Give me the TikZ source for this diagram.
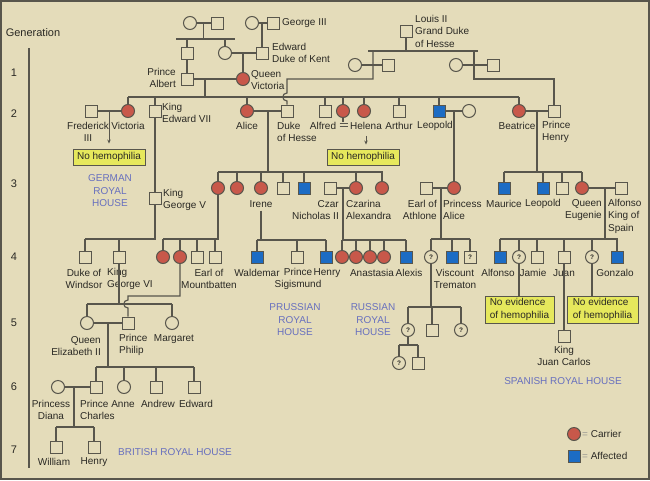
\documentclass[tikz,border=0pt]{standalone}
\usepackage{fontspec}
\setmainfont{Liberation Sans}
\usepackage{xcolor}
\usepackage{tikz}
\usetikzlibrary{arrows.meta,positioning,calc}

\definecolor{paper}{RGB}{228,220,186}
\definecolor{inkline}{RGB}{88,86,76}
\definecolor{inktext}{RGB}{42,41,36}
\definecolor{carrierred}{RGB}{200,88,74}
\definecolor{affectedblue}{RGB}{28,108,196}
\definecolor{notefill}{RGB}{230,232,92}
\definecolor{houseblue}{RGB}{104,112,190}

\begin{document}
\begin{tikzpicture}[
  x=1pt,y=-1pt,
  font=\fontsize{10}{12.5}\selectfont,
  every node/.style={text=inktext},
  ln/.style={draw=inkline,line width=1.15pt},
  male/.style={rectangle,draw=inkline,line width=1pt,fill=paper,
               minimum size=12pt,inner sep=0pt},
  female/.style={circle,draw=inkline,line width=1pt,fill=paper,
                 minimum size=13pt,inner sep=0pt},
  carrier/.style={female,fill=carrierred},
  affected/.style={male,fill=affectedblue},
  qmale/.style={male,font=\fontsize{6.5}{7}\selectfont\bfseries},
  qfemale/.style={female,font=\fontsize{6.5}{7}\selectfont\bfseries},
  lbl/.style={inner sep=0pt,align=center},
  genlbl/.style={lbl,font=\fontsize{11}{13}\selectfont},
  house/.style={lbl,text=houseblue},
  note/.style={rectangle,draw=inkline,line width=0.9pt,fill=notefill,
               inner xsep=4pt,inner ysep=2pt,minimum height=16pt,align=left},
  arr/.style={-{Stealth[length=4pt,width=3.5pt]},draw=inkline,line width=1pt}
]
  \fill[paper] (0,0) rectangle (650,480);
  \draw[inkline,line width=2pt] (1,1) rectangle (649,479);
  \useasboundingbox (0,0) rectangle (650,480);

  % generation scale
  \node[genlbl](gen) at (33,33){Generation};
  \coordinate (genT) at (29,48);
  \coordinate (genB) at (29,468);
  \draw[ln](genT)--(genB);
  \node[genlbl](g1) at (14,73){1};
  \node[genlbl](g2) at (14,114){2};
  \node[genlbl](g3) at (14,184){3};
  \node[genlbl](g4) at (14,257){4};
  \node[genlbl](g5) at (14,323){5};
  \node[genlbl](g6) at (14,387){6};
  \node[genlbl](g7) at (14,450){7};

  % top of the tree
  \node[female](gm1) at (190,23){};
  \node[male](gf1) at (217,23){};
  \node[female](gm2) at (252,23){};
  \node[male](george3) at (273,23){};
  \node[lbl,anchor=west](tGeorge3) at (282,23){George III};
  \node[male](albertf) at (187,53){};
  \node[female](kentw) at (225,53){};
  \node[male](kent) at (262,53){};
  \node[lbl,anchor=west,align=left](tKent) at (272,53){Edward\\Duke of Kent};
  \node[male](albert) at (187,79){};
  \node[lbl,anchor=east,align=right](tAlbert) at (176,78){Prince\\Albert};
  \node[carrier](victoria) at (243,79){};
  \node[lbl,anchor=west,align=left](tVictoria) at (251,80){Queen\\Victoria};

  \coordinate (mA) at (203.5,23);
  \coordinate (barAL) at (176,39);
  \coordinate (barAR) at (235,39);
  \coordinate (mB) at (262,23);
  \coordinate (mC) at (243,53);
  \coordinate (mD) at (205,79);
  \draw[ln](gm1)--(gf1) (gm2)--(george3) (kentw)--(kent) (albert)--(victoria);
  \draw[ln](mA)--(mA |- barAL);
  \draw[ln](barAL)--(barAR);
  \draw[ln](albertf)--(albertf |- barAL) (kentw)--(kentw |- barAL);
  \draw[ln](albertf)--(albert);
  \draw[ln](mB)--(kent);
  \draw[ln](mC)--(victoria);

  % house of Hesse
  \node[male](louis) at (406,31){};
  \node[lbl,anchor=west,align=left](tLouis) at (415,31){Louis II\\Grand Duke\\of Hesse};
  \coordinate (barHL) at (368,51);
  \coordinate (barHR) at (478,51);
  \node[female](hw1) at (355,65){};
  \node[male](hh1) at (388,65){};
  \node[female](hw2) at (456,65){};
  \node[male](hh2) at (493,65){};
  \draw[ln](louis)--(louis |- barHL);
  \draw[ln](barHL)--(barHR);
  \draw[ln](hw1)--(hh1) (hw2)--(hh2);
  \coordinate (mH1) at (373,79);
  \coordinate (mH2) at (474,79);

  % generation 2
  \coordinate (g2L) at (128,97);
  \coordinate (g2R) at (519,97);
  \node[male](fred) at (91,111){};
  \node[carrier](vicp) at (128,111){};
  \node[male](edw7) at (155,111){};
  \node[carrier](alice) at (247,111){};
  \node[male](dhesse) at (287,111){};
  \node[male](alfred) at (325,111){};
  \node[carrier](sister) at (343,111){};
  \node[carrier](helena) at (364,111){};
  \node[male](arthur) at (399,111){};
  \node[affected](leopold) at (439,111){};
  \node[female](leowife) at (469,111){};
  \node[carrier](beatrice) at (519,111){};
  \node[male](henry) at (554,111){};

  \draw[ln](mD)--(mD |- g2L);
  \draw[ln](g2L)--(g2R);
  \draw[ln](vicp)--(vicp |- g2L) (edw7)--(edw7 |- g2L) (alice)--(alice |- g2L)
    (alfred)--(alfred |- g2L) (sister)--(sister |- g2L) (helena)--(helena |- g2L)
    (arthur)--(arthur |- g2L) (leopold)--(leopold |- g2L) (beatrice)--(beatrice |- g2L);
  \draw[ln](fred)--(vicp) (alice)--(dhesse) (leopold)--(leowife) (beatrice)--(henry);
  \coordinate (hop1T) at (287,93);
  \coordinate (hop1B) at (287,101);
  \draw[ln](mH1 |- barHL)--(mH1)--(mH1 -| dhesse)--(hop1T)
    .. controls (281.5,93) and (281.5,101) .. (hop1B)--(dhesse);
  \draw[ln](mH2 |- barHL)--(mH2)-|(henry);
  \coordinate (eqT) at (343,122);
  \draw[ln](sister)--(eqT);
  \draw[inkline,line width=0.9pt](339.5,123)--(347.5,123) (339.5,126.5)--(347.5,126.5);

  \node[lbl](tFred) at (88,132){Frederick\\III};
  \node[lbl](tVicp) at (128,126){Victoria};
  \node[lbl,anchor=west,align=left](tEdw7) at (162,113){King\\Edward VII};
  \node[lbl](tAlice) at (247,126){Alice};
  \node[lbl,anchor=west,align=left](tDHesse) at (277,132){Duke\\of Hesse};
  \node[lbl](tAlfred) at (323,126){Alfred};
  \node[lbl](tHelena) at (366,126){Helena};
  \node[lbl](tArthur) at (399,126){Arthur};
  \node[lbl](tLeopold) at (435,126){Leopold};
  \node[lbl](tBeatrice) at (517,126){Beatrice};
  \node[lbl,anchor=west,align=left](tHenry) at (542,132){Prince\\Henry};

  \coordinate (mFred) at (109,111);
  \node[note](nohem1) at (109,157){No hemophilia};
  \node[note](nohem2) at (363,157){No hemophilia};
  \draw[arr,shorten >=5pt](mFred)--(mFred |- nohem1.north);
  \draw[arr,shorten <=6pt,shorten >=4pt](tHelena)--(tHelena |- nohem2.north);

  % generation 3
  \coordinate (mAlice) at (268,111);
  \coordinate (g3aL) at (218,172);
  \coordinate (g3aR) at (383,172);
  \node[carrier](c31) at (218,188){};
  \node[carrier](c32) at (237,188){};
  \node[carrier](irene) at (261,188){};
  \node[male](s34) at (283,188){};
  \node[affected](s35) at (304,188){};
  \node[male](czar) at (330,188){};
  \node[carrier](czarina) at (356,188){};
  \node[carrier](c38) at (382,188){};
  \draw[ln](mAlice)--(mAlice |- g3aL);
  \draw[ln](g3aL)--(g3aR);
  \draw[ln](c31)--(c31 |- g3aL) (c32)--(c32 |- g3aL) (irene)--(irene |- g3aL)
    (s34)--(s34 |- g3aL) (s35)--(s35 |- g3aL) (czarina)--(czarina |- g3aL)
    (c38)--(c38 |- g3aL);
  \draw[ln](czar)--(czarina);

  \coordinate (mLeo) at (454,111);
  \node[male](athlone) at (426,188){};
  \node[carrier](palice) at (454,188){};
  \draw[ln](mLeo)--(palice);
  \draw[ln](athlone)--(palice);

  \coordinate (mBea) at (537,111);
  \coordinate (g3bL) at (504,172);
  \coordinate (g3bR) at (582,172);
  \node[affected](maurice) at (504,188){};
  \node[affected](leo2) at (543,188){};
  \node[male](s3b) at (562,188){};
  \node[carrier](eugenie) at (582,188){};
  \node[male](alfonso13) at (621,188){};
  \draw[ln](mBea)--(mBea |- g3bL);
  \draw[ln](g3bL)--(g3bR);
  \draw[ln](maurice)--(maurice |- g3bL) (leo2)--(leo2 |- g3bL) (s3b)--(s3b |- g3bL)
    (eugenie)--(eugenie |- g3bL);
  \draw[ln](eugenie)--(alfonso13);

  \node[male](george5) at (155,198){};
  \draw[ln](edw7)--(george5);

  \node[house](hGerman) at (110,191){GERMAN\\ROYAL\\HOUSE};
  \node[lbl,anchor=west,align=left](tGeorge5) at (163,200){King\\George V};
  \node[lbl](tIrene) at (261,204){Irene};
  \node[lbl,anchor=east,align=right](tCzar) at (339,210){Czar\\Nicholas II};
  \node[lbl,anchor=west,align=left](tCzarina) at (346,210){Czarina\\Alexandra};
  \node[lbl,anchor=east,align=right](tAthlone) at (437,210){Earl of\\Athlone};
  \node[lbl,anchor=west,align=left](tPAlice) at (443,210){Princess\\Alice};
  \node[lbl](tMaurice) at (504,204){Maurice};
  \node[lbl](tLeo2) at (543,204){Leopold};
  \node[lbl,anchor=east,align=right](tEugenie) at (602,210){Queen\\Eugenie};
  \node[lbl,anchor=west,align=left](tAlfonso13) at (608,216){Alfonso\\King of\\Spain};

  % generation 4
  \coordinate (g4aL) at (85,239);
  \node[male](windsor) at (85,257){};
  \node[male](george6) at (119,257){};
  \draw[ln](george5)|-(g4aL);
  \draw[ln](windsor)--(windsor |- g4aL) (george6)--(george6 |- g4aL);

  \coordinate (g4bL) at (163,239);
  \node[carrier](c41) at (163,257){};
  \node[carrier](c42) at (180,257){};
  \node[male](s43) at (197,257){};
  \node[male](mountbatten) at (215,257){};
  \draw[ln](c31)|-(g4bL);
  \draw[ln](c41)--(c41 |- g4bL) (c42)--(c42 |- g4bL) (s43)--(s43 |- g4bL)
    (mountbatten)--(mountbatten |- g4bL);

  \coordinate (g4cL) at (257,240);
  \coordinate (g4cR) at (326,240);
  \node[affected](waldemar) at (257,257){};
  \node[male](sigismund) at (297,257){};
  \node[affected](henry4) at (326,257){};
  \draw[ln,shorten <=3pt](tIrene)--(tIrene |- g4cL);
  \draw[ln](g4cL)--(g4cR);
  \draw[ln](waldemar)--(waldemar |- g4cL) (sigismund)--(sigismund |- g4cL)
    (henry4)--(henry4 |- g4cL);

  \coordinate (mCzar) at (343,188);
  \coordinate (g4dL) at (342,240);
  \coordinate (g4dR) at (406,240);
  \node[carrier](an1) at (342,257){};
  \node[carrier](an2) at (356,257){};
  \node[carrier](an3) at (370,257){};
  \node[carrier](an4) at (384,257){};
  \node[affected](alexis) at (406,257){};
  \draw[ln](mCzar)--(mCzar |- g4dL);
  \draw[ln](g4dL)--(g4dR);
  \draw[ln](an1)--(an1 |- g4dL) (an2)--(an2 |- g4dL) (an3)--(an3 |- g4dL)
    (an4)--(an4 |- g4dL) (alexis)--(alexis |- g4dL);

  \coordinate (mAth) at (441,188);
  \coordinate (g4eL) at (431,239);
  \coordinate (g4eR) at (470,239);
  \node[qfemale](q41) at (431,257){?};
  \node[affected](trematon) at (452,257){};
  \node[qmale](q43) at (470,257){?};
  \draw[ln](mAth)--(mAth |- g4eL);
  \draw[ln](g4eL)--(g4eR);
  \draw[ln](q41)--(q41 |- g4eL) (trematon)--(trematon |- g4eL) (q43)--(q43 |- g4eL);

  \coordinate (mSpain) at (605,188);
  \coordinate (g4fL) at (500,239);
  \coordinate (g4fR) at (618,239);
  \node[affected](alfonso4) at (500,257){};
  \node[qfemale](q44) at (519,257){?};
  \node[male](jamie) at (537,257){};
  \node[male](juan) at (564,257){};
  \node[qfemale](q45) at (592,257){?};
  \node[affected](gonzalo) at (617,257){};
  \draw[ln](mSpain)--(mSpain |- g4fL);
  \draw[ln](g4fL)--(g4fR);
  \draw[ln](alfonso4)--(alfonso4 |- g4fL) (q44)--(q44 |- g4fL) (jamie)--(jamie |- g4fL)
    (juan)--(juan |- g4fL) (q45)--(q45 |- g4fL) (gonzalo)--(gonzalo |- g4fL);

  \node[lbl](tWindsor) at (84,279){Duke of\\Windsor};
  \node[lbl,anchor=west,align=left](tGeorge6) at (107,279){King\\George VI};
  \node[lbl](tMountbatten) at (209,279){Earl of\\Mountbatten};
  \node[lbl](tWaldemar) at (257,273){Waldemar};
  \node[lbl](tSigismund) at (298,279){Prince\\Sigismund};
  \node[lbl](tHenry4) at (327,273){Henry};
  \node[lbl](tAnastasia) at (372,273){Anastasia};
  \node[lbl](tAlexis) at (409,273){Alexis};
  \node[lbl](tTrematon) at (455,279){Viscount\\Trematon};
  \node[lbl](tAlfonso4) at (498,273){Alfonso};
  \node[lbl](tJamie) at (533,273){Jamie};
  \node[lbl](tJuan) at (564,273){Juan};
  \node[lbl](tGonzalo) at (615,273){Gonzalo};

  % generation 5
  \coordinate (g5L) at (87,304);
  \coordinate (g5R) at (172,304);
  \node[female](elizabeth) at (87,323){};
  \node[male](philip) at (128,323){};
  \node[female](margaret) at (172,323){};
  \draw[ln](george6)--(george6 |- g5L);
  \draw[ln](g5L)--(g5R);
  \draw[ln](elizabeth)--(elizabeth |- g5L) (margaret)--(margaret |- g5L);
  \coordinate (bend5) at (180,296);
  \coordinate (hop2T) at (128,300);
  \coordinate (hop2B) at (128,308);
  \draw[ln](c42)--(bend5)--(bend5 -| philip)--(hop2T)
    .. controls (122.5,300) and (122.5,308) .. (hop2B)--(philip);
  \draw[ln](elizabeth)--(philip);

  \coordinate (g5rL) at (408,307);
  \coordinate (g5rR) at (461,307);
  \node[qfemale](q51) at (408,330){?};
  \node[male](s52) at (432,330){};
  \node[qfemale](q53) at (461,330){?};
  \draw[ln](q41)--(q41 |- g5rL);
  \draw[ln](g5rL)--(g5rR);
  \draw[ln](q51)--(q51 |- g5rL) (s52)--(s52 |- g5rL) (q53)--(q53 |- g5rL);
  \coordinate (g6rL) at (399,345);
  \coordinate (g6rR) at (418,345);
  \node[qfemale](q61) at (399,363){?};
  \node[male](s62) at (418,363){};
  \draw[ln](q51)--(q51 |- g6rL);
  \draw[ln](g6rL)--(g6rR);
  \draw[ln](q61)--(q61 |- g6rL) (s62)--(s62 |- g6rL);

  \node[note,minimum width=69pt,minimum height=27pt](noev1) at (519.5,309.5){No evidence\\of hemophilia};
  \node[note,minimum width=71pt,minimum height=27pt](noev2) at (602.5,309.5){No evidence\\of hemophilia};
  \draw[ln](q44)--(q44 |- noev1.north);
  \draw[ln](q45)--(q45 |- noev2.north);
  \node[male](juancarlos) at (564,336){};
  \draw[ln](juan)--(juancarlos);

  \node[lbl,anchor=east,align=right](tElizabeth) at (101,346){Queen\\Elizabeth II};
  \node[lbl,anchor=west,align=left](tPhilip) at (119,345){Prince\\Philip};
  \node[lbl](tMargaret) at (174,339){Margaret};
  \node[house](hPrussian) at (295,320){PRUSSIAN\\ROYAL\\HOUSE};
  \node[house](hRussian) at (373,320){RUSSIAN\\ROYAL\\HOUSE};
  \node[lbl](tJuanCarlos) at (564,356){King\\Juan Carlos};
  \node[house](hSpanish) at (563,381){SPANISH ROYAL HOUSE};

  % generations 6 and 7
  \coordinate (mEliz) at (108,323);
  \coordinate (g6L) at (96,367);
  \coordinate (g6R) at (194,367);
  \node[female](diana) at (58,387){};
  \node[male](charles) at (96,387){};
  \node[female](anne) at (124,387){};
  \node[male](andrew) at (156,387){};
  \node[male](edward) at (194,387){};
  \draw[ln](mEliz)--(mEliz |- g6L);
  \draw[ln](g6L)--(g6R);
  \draw[ln](charles)--(charles |- g6L) (anne)--(anne |- g6L) (andrew)--(andrew |- g6L)
    (edward)--(edward |- g6L);
  \draw[ln](diana)--(charles);

  \coordinate (mDiana) at (74,387);
  \coordinate (g7L) at (56,427);
  \coordinate (g7R) at (94,427);
  \node[male](william) at (56,447){};
  \node[male](harry) at (94,447){};
  \draw[ln](mDiana)--(mDiana |- g7L);
  \draw[ln](g7L)--(g7R);
  \draw[ln](william)--(william |- g7L) (harry)--(harry |- g7L);

  \node[lbl](tDiana) at (51,410){Princess\\Diana};
  \node[lbl,anchor=west,align=left](tCharles) at (80,410){Prince\\Charles};
  \node[lbl](tAnne) at (123,404){Anne};
  \node[lbl](tAndrew) at (158,404){Andrew};
  \node[lbl](tEdward) at (196,404){Edward};
  \node[lbl](tWilliam) at (54,462){William};
  \node[lbl](tHarry) at (94,462){Henry};
  \node[house](hBritish) at (175,452){BRITISH ROYAL HOUSE};

  % key
  \node[carrier](keyC) at (574,434){};
  \node[lbl,anchor=west](tKeyC) at (582,434){\textcolor{inkline!60}{=} Carrier};
  \node[affected](keyA) at (574,456){};
  \node[lbl,anchor=west](tKeyA) at (582,456){\textcolor{inkline!60}{=} Affected};
\end{tikzpicture}
\end{document}
